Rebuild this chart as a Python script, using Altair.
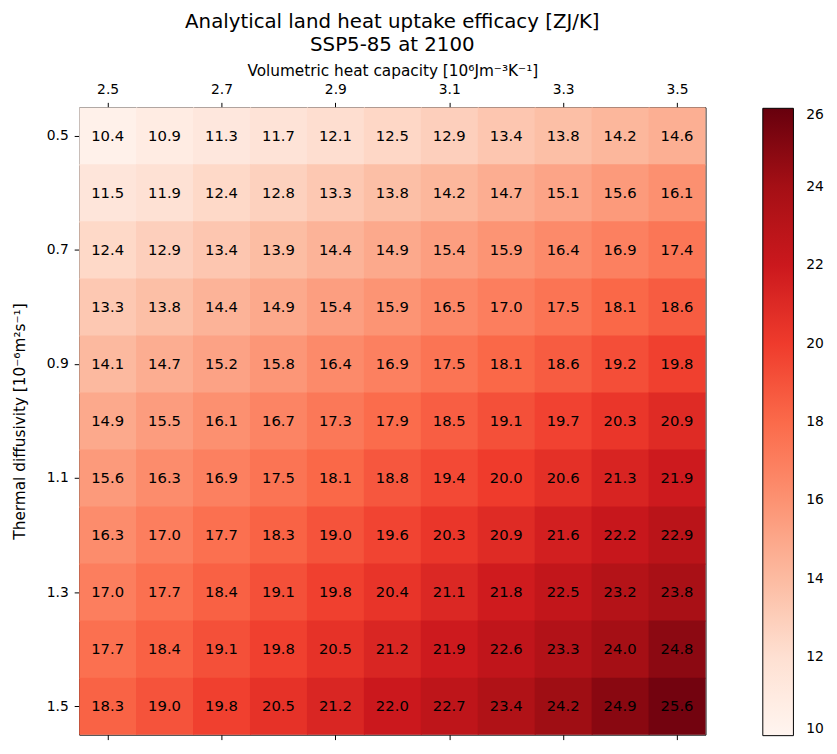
import altair as alt
import pandas as pd

capacity = [2.5, 2.6, 2.7, 2.8, 2.9, 3.0, 3.1, 3.2, 3.3, 3.4, 3.5]
diffusivity = [0.5, 0.6, 0.7, 0.8, 0.9, 1.0, 1.1, 1.2, 1.3, 1.4, 1.5]
values = [
    [10.4, 10.9, 11.3, 11.7, 12.1, 12.5, 12.9, 13.4, 13.8, 14.2, 14.6],
    [11.5, 11.9, 12.4, 12.8, 13.3, 13.8, 14.2, 14.7, 15.1, 15.6, 16.1],
    [12.4, 12.9, 13.4, 13.9, 14.4, 14.9, 15.4, 15.9, 16.4, 16.9, 17.4],
    [13.3, 13.8, 14.4, 14.9, 15.4, 15.9, 16.5, 17.0, 17.5, 18.1, 18.6],
    [14.1, 14.7, 15.2, 15.8, 16.4, 16.9, 17.5, 18.1, 18.6, 19.2, 19.8],
    [14.9, 15.5, 16.1, 16.7, 17.3, 17.9, 18.5, 19.1, 19.7, 20.3, 20.9],
    [15.6, 16.3, 16.9, 17.5, 18.1, 18.8, 19.4, 20.0, 20.6, 21.3, 21.9],
    [16.3, 17.0, 17.7, 18.3, 19.0, 19.6, 20.3, 20.9, 21.6, 22.2, 22.9],
    [17.0, 17.7, 18.4, 19.1, 19.8, 20.4, 21.1, 21.8, 22.5, 23.2, 23.8],
    [17.7, 18.4, 19.1, 19.8, 20.5, 21.2, 21.9, 22.6, 23.3, 24.0, 24.8],
    [18.3, 19.0, 19.8, 20.5, 21.2, 22.0, 22.7, 23.4, 24.2, 24.9, 25.6],
]
x_ticks = [2.5, 2.7, 2.9, 3.1, 3.3, 3.5]
y_ticks = [0.5, 0.7, 0.9, 1.1, 1.3, 1.5]
cbar_ticks = [10, 12, 14, 16, 18, 20, 22, 24, 26]
reds = ["#fff5f0", "#fee0d2", "#fcbba1", "#fc9272", "#fb6a4a",
        "#ef3b2c", "#cb181d", "#a50f15", "#67000d"]

rows = []
for i, d in enumerate(diffusivity):
    for j, c in enumerate(capacity):
        rows.append({"c": c, "d": d, "v": values[i][j],
                     "c0": round(c - 0.05, 4), "c1": round(c + 0.052, 4),
                     "d0": round(d - 0.05, 4), "d1": round(d + 0.052, 4)})
df = pd.DataFrame(rows)

FONT = "DejaVu Sans"
xdom = [2.45, 3.55]
ydom = [0.45, 1.55]

xscale = alt.Scale(domain=xdom, nice=False, zero=False)
yscale = alt.Scale(domain=ydom, nice=False, zero=False, reverse=True)
cscale = alt.Scale(domain=cbar_ticks, range=reds, interpolate="rgb")

yaxis = alt.Axis(values=y_ticks, format=".1f", title="Thermal diffusivity [10⁻⁶m²s⁻¹]",
                 domain=False, grid=False, labelPadding=6, titlePadding=19)

rects = alt.Chart(df).mark_rect(clip=True).encode(
    x=alt.X("c0:Q", scale=xscale,
            axis=alt.Axis(orient="top", values=x_ticks, format=".1f",
                          title="Volumetric heat capacity [10⁶Jm⁻³K⁻¹]",
                          domain=False, grid=False, labelPadding=6, titlePadding=4)),
    x2="c1:Q",
    y=alt.Y("d0:Q", scale=yscale, axis=yaxis),
    y2="d1:Q",
    color=alt.Color("v:Q", scale=cscale,
                    legend=alt.Legend(type="gradient", orient="none", legendX=692, legendY=1,
                                      direction="vertical", title=None,
                                      gradientLength=635, gradientThickness=31,
                                      values=cbar_ticks, labelFontSize=14,
                                      labelColor="black", labelOffset=13,
                                      gradientStrokeColor="black", gradientStrokeWidth=1)),
)

texts = alt.Chart(df).mark_text(fontSize=15, color="black", font=FONT).encode(
    x=alt.X("c:Q", scale=xscale,
            axis=alt.Axis(orient="bottom", values=x_ticks, labels=False, title=None,
                          domain=False, grid=False)),
    y=alt.Y("d:Q", scale=yscale, axis=yaxis),
    text=alt.Text("v:Q", format=".1f"),
)

chart = alt.layer(rects, texts).resolve_scale(x="independent").properties(
    width=634, height=635,
    padding={"left": 4, "top": 0, "right": 5, "bottom": 5},
    title=alt.Title(["Analytical land heat uptake efficacy [ZJ/K]", "SSP5-85 at 2100"],
                    fontSize=20, fontWeight="normal", color="black", anchor="middle",
                    offset=6, lineHeight=23, dy=-3),
).configure(font=FONT).configure_axis(
    labelFontSize=14, titleFontSize=15.5, titleFontWeight="normal",
    labelColor="black", titleColor="black", tickColor="black", tickSize=5,
).configure_view(stroke="black", strokeWidth=1)

chart.save("out.html", embed_options={"renderer": "svg", "actions": False})
